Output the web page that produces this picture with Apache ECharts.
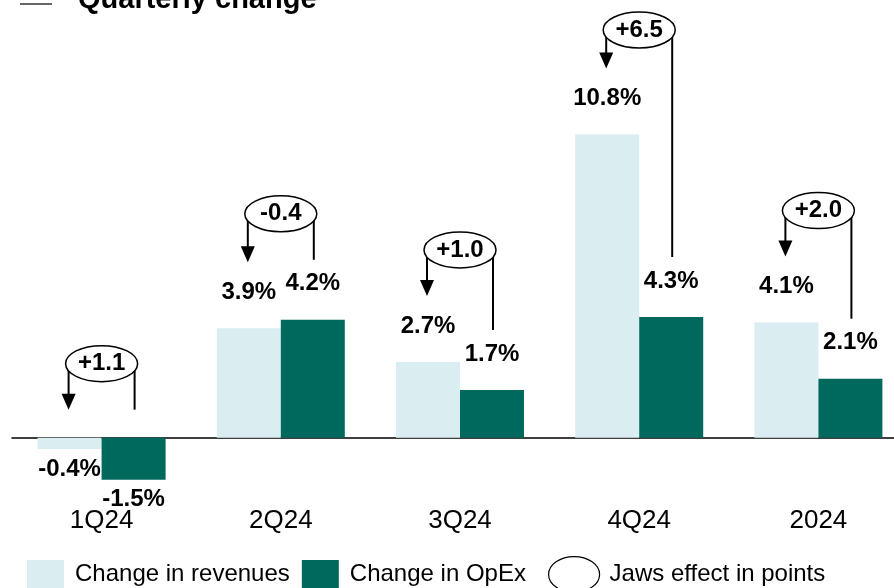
<!DOCTYPE html>
<html>
<head>
<meta charset="utf-8">
<script src="https://cdn.jsdelivr.net/npm/echarts@6/dist/echarts.min.js"></script>
<style>
  html, body { margin: 0; padding: 0; background: #fff; }
  #chart { width: 894px; height: 588px; }
</style>
</head>
<body>
<div id="chart"></div>
<script>
// data
const categories = ['1Q24', '2Q24', '3Q24', '4Q24', '2024'];
const revenues = [-0.4, 3.9, 2.7, 10.8, 4.1];
const opex = [-1.5, 4.2, 1.7, 4.3, 2.1];
const jaws = ['+1.1', '-0.4', '+1.0', '+6.5', '+2.0'];

const FONT = 'Arial, "Liberation Sans", sans-serif';
const LIGHT = '#DAEEF1';
const DARK = '#00695E';

const chart = echarts.init(document.getElementById('chart'));

// negative bars get their label below
function withLabels(arr) {
    return arr.map(v => v < 0
        ? { value: v, label: { position: 'bottom', distance: 8 } }
        : v);
}

// ellipse + arrow (revenues side) + line (opex side)
function renderJaws(params, api) {
    const i = api.value(0);
    const rev = api.value(1);
    const ox = api.value(2);
    const base = api.coord([i, 0]);
    const cx = base[0];
    const revTop = api.coord([i, Math.max(rev, 0)])[1];
    const oxTop = api.coord([i, Math.max(ox, 0)])[1];
    const tipY = rev > 0 ? revTop - 66 : base[1] - 28;
    const endY = ox > 0 ? oxTop - 60 : base[1] - 28;
    // keep the bubble inside the top of the picture
    const cy = Math.max(Math.min(tipY, endY) - 46, 30);
    const lx = cx - 33, rx = cx + 33;
    const line = { stroke: '#000', lineWidth: 2 };
    return {
        type: 'group',
        children: [
            { type: 'line', shape: { x1: lx, y1: cy, x2: lx, y2: tipY - 14 }, style: line },
            { type: 'polygon', shape: { points: [[lx - 7, tipY - 16], [lx + 7, tipY - 16], [lx, tipY]] }, style: { fill: '#000' } },
            { type: 'line', shape: { x1: rx, y1: cy, x2: rx, y2: endY }, style: line },
            { type: 'ellipse', shape: { cx: cx, cy: cy, rx: 36, ry: 18 }, style: { fill: '#fff', stroke: '#000', lineWidth: 1.5 } },
            { type: 'text', x: cx, y: cy, style: { text: jaws[i], fill: '#000', font: 'bold 24px ' + FONT, align: 'center', verticalAlign: 'middle' } }
        ]
    };
}

const legendText = { fontSize: 24, color: '#000', fontFamily: FONT };

const option = {
    animation: false,
    backgroundColor: '#fff',
    title: {
        text: 'Quarterly change',
        left: 78,
        top: -15,
        padding: 0,
        textStyle: { fontSize: 29, fontWeight: 'bold', color: '#000', fontFamily: FONT }
    },
    graphic: [
        { type: 'line', shape: { x1: 20, y1: 4, x2: 52, y2: 4 }, style: { stroke: '#333', lineWidth: 1.5 } }
    ],
    legend: [
        {
            left: 27,
            top: 560,
            padding: 0,
            itemWidth: 37,
            itemHeight: 28,
            itemGap: 12,
            textStyle: Object.assign({ padding: [0, 0, 0, 6] }, legendText),
            data: [
                { name: 'Change in revenues', icon: 'rect' },
                { name: 'Change in OpEx', icon: 'rect' }
            ]
        },
        {
            left: 548,
            top: 556,
            padding: 0,
            itemWidth: 51,
            itemHeight: 38,
            textStyle: Object.assign({ padding: [0, 0, 0, 5] }, legendText),
            data: [
                { name: 'Jaws effect in points', icon: 'path://M0,0 m -20,0 a 20,14 0 1,0 40,0 a 20,14 0 1,0 -40,0 z',
                  itemStyle: { color: '#fff', borderColor: '#000', borderWidth: 1.2 } }
            ]
        }
    ],
    grid: { left: 12, width: 896, top: 56, height: 449, outerBoundsMode: 'none', containLabel: false },
    xAxis: {
        type: 'category',
        data: categories,
        axisLine: { onZero: true, lineStyle: { color: '#000', width: 1.5 } },
        axisTick: { show: false },
        axisLabel: { margin: 3, fontSize: 26, color: '#000', fontFamily: FONT }
    },
    yAxis: {
        type: 'value',
        min: -2.4,
        max: 13.6,
        show: false,
        splitLine: { show: false }
    },
    series: [
        {
            name: 'Change in revenues',
            type: 'bar',
            barWidth: 64,
            barGap: '0%',
            itemStyle: { color: LIGHT },
            label: {
                show: true, position: 'top', distance: 24,
                formatter: p => p.value.toFixed(1) + '%',
                fontSize: 24, fontWeight: 'bold', color: '#000', fontFamily: FONT
            },
            data: withLabels(revenues)
        },
        {
            name: 'Change in OpEx',
            type: 'bar',
            barWidth: 64,
            barGap: '0%',
            itemStyle: { color: DARK },
            label: {
                show: true, position: 'top', distance: 24,
                formatter: p => p.value.toFixed(1) + '%',
                fontSize: 24, fontWeight: 'bold', color: '#000', fontFamily: FONT
            },
            data: withLabels(opex)
        },
        {
            name: 'Jaws effect in points',
            type: 'custom',
            renderItem: renderJaws,
            itemStyle: { color: '#fff', borderColor: '#000' },
            encode: { x: 0, y: 1 },
            z: 5,
            data: categories.map((c, i) => [i, revenues[i], opex[i]])
        }
    ]
};

chart.setOption(option);
</script>
</body>
</html>
